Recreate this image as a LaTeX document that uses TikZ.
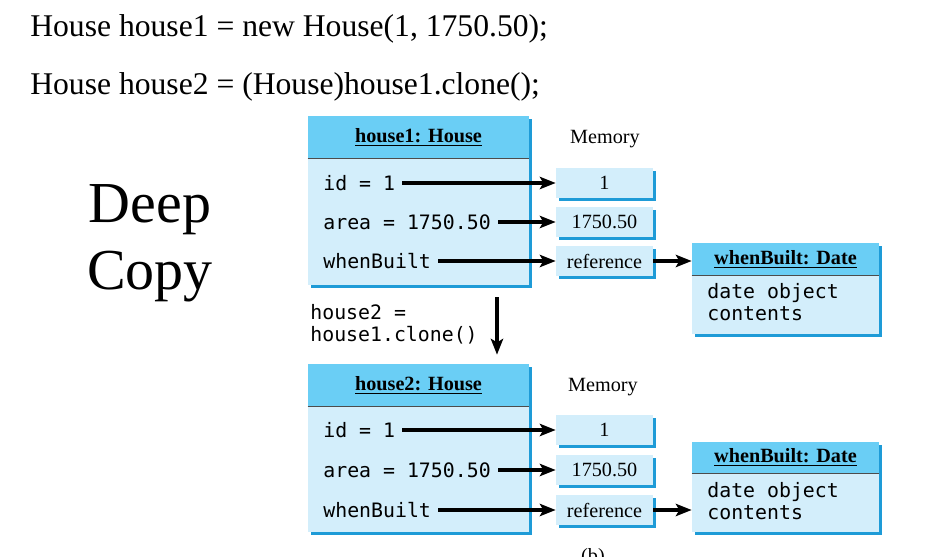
\documentclass[tikz,border=0pt]{standalone}
\usepackage{fontspec}
\setmainfont{Liberation Serif}
\setmonofont{DejaVu Sans Mono}
\usetikzlibrary{positioning,calc,shadows,arrows.meta}
\definecolor{hdrblue}{HTML}{6ACEF5}
\definecolor{bodyblue}{HTML}{D3EEFB}
\definecolor{shdblue}{HTML}{1E9BD7}
\tikzset{boxshadow/.style={drop shadow={shadow xshift=0.06cm,shadow yshift=-0.06cm,opacity=1,fill=shdblue}}}
\tikzset{objbox/.style={fill=bodyblue,inner sep=0,boxshadow}}
\tikzset{membox/.style={fill=bodyblue,inner sep=0,minimum width=1.94cm,minimum height=0.6cm,boxshadow,font=\fontsize{11.5}{13}\selectfont}}
\tikzset{memlabel/.style={inner sep=0,font=\fontsize{11.5}{13}\selectfont}}
\tikzset{field/.style={anchor=west,inner xsep=4pt,inner ysep=0,font=\ttfamily\fontsize{11.3}{12.3}\selectfont}}
\tikzset{hdrtext/.style={inner sep=0,font=\bfseries\fontsize{11.5}{13}\selectfont}}
\tikzset{sepline/.style={draw=black!70,line width=0.6pt}}
\tikzset{ptr/.style={-{Stealth[length=9pt,width=7pt,inset=2pt]},line width=1.8pt}}
\tikzset{codeline/.style={anchor=base west,inner sep=0,font=\fontsize{18}{20}\selectfont}}
\tikzset{bigtext/.style={anchor=base,inner sep=0,font=\fontsize{33}{38}\selectfont}}

\begin{document}
\begin{tikzpicture}[x=0.02cm,y=-0.02cm]
  \useasboundingbox (0,0) rectangle (941,556);

  \node[codeline] (l1) at (30,36) {House house1 = new House(1, 1750.50);};
  \node[codeline] (l2) at (30,94) {House house2 = (House)house1.clone();};
  \node[bigtext] (deep) at (150,222) {Deep};
  \node[bigtext] (copy) at (150,289) {Copy};

  % house1
  \node[objbox,minimum width=4.42cm,minimum height=3.38cm] (h1) at (418.5,200.5) {};
  \fill[hdrblue] (h1.north west) rectangle ($(h1.north east)+(0,43)$);
  \draw[sepline] ($(h1.north west)+(0,43)$) -- ($(h1.north east)+(0,43)$);
  \node[hdrtext] (h1t) at ($(h1.north)+(0,21.5)$) {\underline{house1: House}};
  \node[field] (id1) at (316,183) {id = 1};
  \node[field] (ar1) at (316,222) {area = 1750.50};
  \node[field] (wb1) at (316,261) {whenBuilt};

  \node[memlabel] (mem1) at (605,139) {Memory};
  \node[membox] (m11) at (604.5,183) {1};
  \node[membox] (m12) at (604.5,222) {1750.50};
  \node[membox] (m13) at (604.5,261) {reference};
  \draw[ptr] (id1.east) -- (m11.west);
  \draw[ptr] (ar1.east) -- (m12.west);
  \draw[ptr] (wb1.east) -- (m13.west);

  \node[objbox,minimum width=3.74cm,minimum height=1.82cm] (d1) at (785.5,288.5) {};
  \fill[hdrblue] (d1.north west) rectangle ($(d1.north east)+(0,33)$);
  \draw[sepline] ($(d1.north west)+(0,33)$) -- ($(d1.north east)+(0,33)$);
  \node[hdrtext] (d1t) at ($(d1.north)+(0,16.5)$) {\underline{whenBuilt: Date}};
  \node[field,anchor=north west,align=left] (d1b) at (700,283) {date object\\contents};
  \draw[ptr] (m13.east) -- (m13.east -| d1.west);

  % clone step
  \node[field,anchor=north west,align=left,inner xsep=0] (cl) at (310,304) {house2 =\\house1.clone()};
  \coordinate (dn) at (497,297);

  % house2
  \node[objbox,minimum width=4.42cm,minimum height=3.36cm] (h2) at (418.5,448) {};
  \fill[hdrblue] (h2.north west) rectangle ($(h2.north east)+(0,43)$);
  \draw[sepline] ($(h2.north west)+(0,43)$) -- ($(h2.north east)+(0,43)$);
  \node[hdrtext] (h2t) at ($(h2.north)+(0,21.5)$) {\underline{house2: House}};
  \node[field] (id2) at (316,430) {id = 1};
  \node[field] (ar2) at (316,470) {area = 1750.50};
  \node[field] (wb2) at (316,510) {whenBuilt};
  \draw[ptr,shorten >=0.18cm] (dn) -- (dn |- h2.north);

  \node[memlabel] (mem2) at (603,387) {Memory};
  \node[membox] (m21) at (604.5,430) {1};
  \node[membox] (m22) at (604.5,470) {1750.50};
  \node[membox] (m23) at (604.5,510) {reference};
  \draw[ptr] (id2.east) -- (m21.west);
  \draw[ptr] (ar2.east) -- (m22.west);
  \draw[ptr] (wb2.east) -- (m23.west);

  \node[objbox,minimum width=3.74cm,minimum height=1.8cm] (d2) at (785.5,487) {};
  \fill[hdrblue] (d2.north west) rectangle ($(d2.north east)+(0,32)$);
  \draw[sepline] ($(d2.north west)+(0,32)$) -- ($(d2.north east)+(0,32)$);
  \node[hdrtext] (d2t) at ($(d2.north)+(0,16)$) {\underline{whenBuilt: Date}};
  \node[field,anchor=north west,align=left] (d2b) at (700,482) {date object\\contents};
  \draw[ptr] (m23.east) -- (m23.east -| d2.west);

  \node[memlabel,anchor=base] (fig) at (593,562) {(b)};
\end{tikzpicture}
\end{document}
